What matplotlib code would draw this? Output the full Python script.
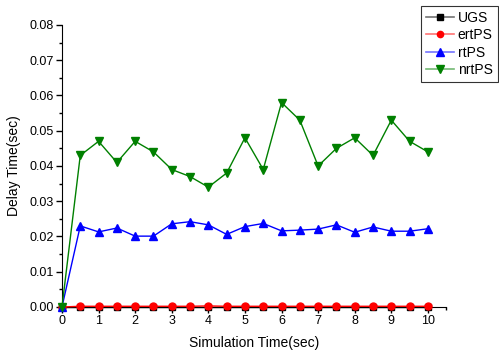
import matplotlib.pyplot as plt
from matplotlib.lines import Line2D
from matplotlib.ticker import MultipleLocator

plt.rcParams['font.family'] = ['Liberation Sans', 'DejaVu Sans']

t = [0, 0.5, 1, 1.5, 2, 2.5, 3, 3.5, 4, 4.5, 5, 5.5, 6, 6.5, 7, 7.5, 8, 8.5, 9, 9.5, 10]

ugs = [0] * 21
ertps = [0, 0.0002, 0.0002, 0.0002, 0.0002, 0.0002, 0.0002, 0.0002, 0.0003, 0.0002, 0.0002,
         0.0002, 0.0002, 0.0002, 0.0002, 0.0002, 0.0002, 0.0002, 0.0002, 0.0002, 0.0002]
rtps = [0, 0.0230, 0.0213, 0.0224, 0.0201, 0.0201, 0.0236, 0.0242, 0.0233, 0.0206, 0.0228,
        0.0237, 0.0216, 0.0218, 0.0221, 0.0233, 0.0212, 0.0227, 0.0215, 0.0215, 0.0222]
nrtps = [0, 0.043, 0.047, 0.041, 0.047, 0.044, 0.039, 0.037, 0.034, 0.038, 0.048,
         0.039, 0.058, 0.053, 0.040, 0.045, 0.048, 0.043, 0.053, 0.047, 0.044]

series = [
    ('UGS', ugs, 'black', 's', 4.5),
    ('ertPS', ertps, 'red', 'o', 5),
    ('rtPS', rtps, 'blue', '^', 6),
    ('nrtPS', nrtps, 'green', 'v', 6),
]

fig = plt.figure(figsize=(4.99, 3.54), dpi=100)
ax = fig.add_axes([0.1242, 0.1328, 0.7700, 0.7966])

handles = []
for name, vals, col, mk, ms in series:
    ax.plot(t, vals, color=col, marker=mk, markersize=ms, linewidth=1.0, clip_on=False, zorder=3)
    # legend entry: faded line with a solid marker on top
    ln = Line2D([], [], color=col, linewidth=1.2, alpha=0.55)
    pt = Line2D([], [], color=col, marker=mk, markersize=ms - 0.5, linestyle='none')
    handles.append((ln, pt))

ax.set_xlim(0, 10.5)
ax.set_ylim(0, 0.08)
ax.xaxis.set_major_locator(MultipleLocator(1))
ax.xaxis.set_minor_locator(MultipleLocator(0.5))
ax.yaxis.set_major_locator(MultipleLocator(0.01))
ax.yaxis.set_minor_locator(MultipleLocator(0.005))
ax.yaxis.set_major_formatter(plt.FormatStrFormatter('%.2f'))
ax.tick_params(which='major', direction='out', length=4, width=1, labelsize=9, pad=2)
ax.tick_params(which='minor', direction='out', length=2.5, width=1)
ax.spines['top'].set_visible(False)
ax.spines['right'].set_visible(False)
ax.set_xlabel('Simulation Time(sec)', fontsize=10, labelpad=6)
ax.set_ylabel('Delay Time(sec)', fontsize=10, labelpad=6)

leg = fig.legend(handles, [s[0] for s in series],
                 loc='upper right', bbox_to_anchor=(0.997, 0.983),
                 fontsize=10, frameon=True, fancybox=False, edgecolor='black',
                 handlelength=2.0, handletextpad=0.3, borderpad=0.35, labelspacing=0.25,
                 borderaxespad=0)
leg.get_frame().set_linewidth(0.8)

fig.savefig('out.png', dpi=100)
